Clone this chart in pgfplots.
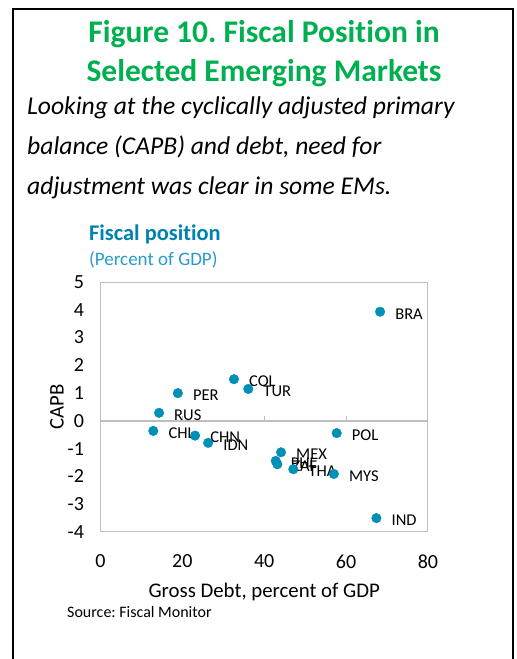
\documentclass[border=0pt]{standalone}
\usepackage{fontspec}
\setmainfont{Carlito}[Ligatures=NoCommon]
\usepackage{pgfplots}
\pgfplotsset{compat=1.18}
\frenchspacing

\definecolor{titlegreen}{RGB}{0,176,80}
\definecolor{headblue}{RGB}{0,130,175}
\definecolor{subblue}{RGB}{40,155,200}
\definecolor{ptblue}{RGB}{0,143,181}
\definecolor{axgray}{RGB}{191,191,191}

\pgfplotstableread{
x     y      lab
68.3  3.93   BRA
32.6  1.50   COL
36.1  1.15   TUR
18.9  1.00   PER
14.3  0.29   RUS
12.9  -0.36  CHL
23.1  -0.53  CHN
26.3  -0.79  IDN
44.1  -1.13  MEX
42.8  -1.44  PHL
43.2  -1.56  ZAF
47.1  -1.74  THA
57.7  -0.44  POL
57.0  -1.91  MYS
67.4  -3.50  IND
}\fiscal

\begin{document}
\begin{tikzpicture}
  \useasboundingbox (0pt,0pt) rectangle (517pt,659pt);
  % outer frame, open at the bottom
  \draw[line width=2pt] (13pt,0pt) -- (13pt,650pt) -- (513pt,650pt) -- (513pt,0pt);

  \node[anchor=base, text=titlegreen, font=\fontsize{31.5}{35}\selectfont\bfseries]
    at (264pt,616pt) {Figure 10. Fiscal Position in};
  \node[anchor=base, text=titlegreen, font=\fontsize{31.5}{35}\selectfont\bfseries]
    at (264pt,577pt) {Selected Emerging Markets};

  \node[anchor=base west, inner sep=0pt, font=\fontsize{25.6}{30}\selectfont\itshape]
    at (27pt,544pt) {Looking at the cyclically adjusted primary};
  \node[anchor=base west, inner sep=0pt, font=\fontsize{25.6}{30}\selectfont\itshape]
    at (27pt,504pt) {balance (CAPB) and debt, need for};
  \node[anchor=base west, inner sep=0pt, font=\fontsize{25.6}{30}\selectfont\itshape]
    at (27pt,464pt) {adjustment was clear in some EMs.};

  \node[anchor=base west, inner sep=0pt, text=headblue, font=\fontsize{22.4}{26}\selectfont\bfseries]
    at (89pt,418pt) {Fiscal position};
  \node[anchor=base west, inner sep=0pt, text=subblue, font=\fontsize{19}{22}\selectfont]
    at (89pt,393pt) {(Percent of GDP)};

  \node[anchor=base west, inner sep=0pt, font=\fontsize{16}{19}\selectfont]
    at (67pt,41pt) {Source: Fiscal Monitor};

  \begin{axis}[
    at={(100.5pt,127pt)}, anchor=south west,
    width=327.5pt, height=250pt, scale only axis,
    xmin=0, xmax=80, ymin=-4, ymax=5,
    xtick={0,20,40,60,80}, ytick={-4,-3,-2,-1,0,1,2,3,4,5},
    axis line style={draw=axgray, line width=1pt},
    major tick length=0pt,
    /pgf/number format/assume math mode=true,
    tick label style={font=\fontsize{20}{23}\selectfont},
    xticklabel style={yshift=-19pt},
    yticklabel style={xshift=-13pt},
    xlabel={Gross Debt, percent of GDP},
    ylabel={CAPB},
    label style={font=\fontsize{20.8}{24}\selectfont},
    x label style={at={(axis description cs:0.5,-0.24)}, anchor=center},
    y label style={at={(axis description cs:-0.133,0.5)}, anchor=center},
    clip=false,
  ]
    \draw[axgray, line width=1.3pt] (axis cs:0,0) -- (axis cs:80,0);
    \draw[axgray, line width=1pt] (axis cs:20,0) -- ++(0pt,5pt);
    \draw[axgray, line width=1pt] (axis cs:40,0) -- ++(0pt,5pt);
    \draw[axgray, line width=1pt] (axis cs:60,0) -- ++(0pt,5pt);
    \addplot[ptblue, only marks, mark=*, mark size=4.8pt,
      mark options={fill=ptblue, draw=none},
      point meta=explicit symbolic,
      nodes near coords,
      every node near coord/.style={anchor=west, inner sep=0pt, xshift=15pt, yshift=-2pt,
        font=\fontsize{16.5}{19}\selectfont, text=black}]
      table[x=x, y=y, meta=lab] {\fiscal};
  \end{axis}
\end{tikzpicture}
\end{document}
